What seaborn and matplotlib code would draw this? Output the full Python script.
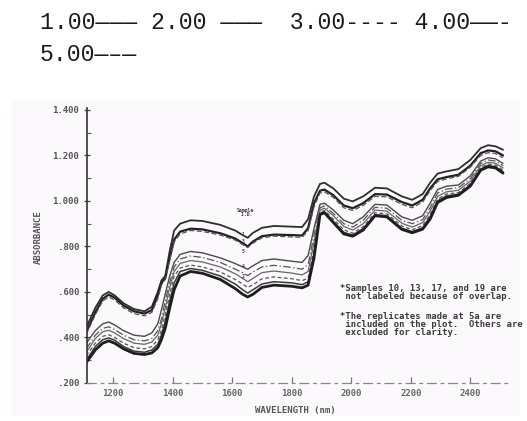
import matplotlib
matplotlib.use("Agg")
import matplotlib.pyplot as plt
import seaborn as sns
import pandas as pd
from matplotlib.patches import Rectangle

sns.set_style("white")
plt.rcParams["font.family"] = ["DejaVu Sans Mono", "DejaVu Sans"]

# wavelength grid (nm)
wavelength = [1110, 1140, 1165, 1185, 1205, 1235, 1270, 1305, 1330, 1350, 1362, 1375,
              1390, 1405, 1425, 1460, 1500, 1560, 1610, 1635, 1652, 1670, 1700, 1740,
              1800, 1835, 1855, 1875, 1895, 1910, 1940, 1975, 2005, 2040, 2080, 2120,
              2170, 2205, 2240, 2265, 2290, 2320, 2360, 2400, 2435, 2460, 2485, 2510]

# upper group of spectra
curve_a = [.445, .53, .585, .60, .585, .55, .525, .515, .535, .60, .65, .67,
           .78, .87, .90, .915, .912, .895, .87, .85, .838, .86, .882, .89,
           .887, .885, .92, 1.02, 1.075, 1.08, 1.055, 1.01, .998, 1.02, 1.058, 1.055,
           1.02, 1.005, 1.03, 1.08, 1.12, 1.13, 1.14, 1.18, 1.232, 1.245, 1.24, 1.225]
curve_b = [.425, .51, .57, .588, .575, .54, .515, .505, .52, .585, .64, .66,
           .75, .83, .865, .878, .875, .858, .835, .815, .80, .822, .845, .852,
           .85, .848, .88, .99, 1.045, 1.05, 1.025, .98, .968, .99, 1.03, 1.028,
           .995, .98, 1.005, 1.055, 1.095, 1.105, 1.115, 1.155, 1.21, 1.222, 1.218, 1.20]
curve_c = [.415, .50, .56, .578, .565, .53, .505, .495, .51, .57, .63, .655,
           .74, .82, .855, .87, .866, .85, .828, .808, .795, .815, .838, .845,
           .842, .84, .87, .975, 1.035, 1.04, 1.015, .97, .958, .98, 1.02, 1.018,
           .985, .97, .995, 1.045, 1.085, 1.097, 1.108, 1.148, 1.20, 1.212, 1.208, 1.19]

# lower group of spectra
curve_d = [.375, .43, .46, .468, .455, .43, .41, .405, .42, .46, .52, .59,
           .67, .73, .765, .778, .772, .75, .725, .71, .70, .715, .738, .745,
           .735, .73, .76, .88, .985, .99, .96, .915, .90, .93, .985, .982,
           .93, .915, .935, .99, 1.05, 1.065, 1.07, 1.11, 1.175, 1.19, 1.185, 1.165]
curve_e = [.35, .41, .44, .447, .435, .41, .39, .385, .395, .43, .48, .56,
           .64, .71, .745, .758, .752, .73, .70, .685, .672, .688, .71, .717,
           .708, .70, .72, .85, .97, .978, .945, .90, .885, .915, .972, .968,
           .915, .90, .918, .97, 1.035, 1.052, 1.058, 1.098, 1.165, 1.18, 1.175, 1.155]
curve_f = [.335, .395, .425, .432, .42, .395, .375, .37, .38, .41, .46, .53,
           .62, .69, .725, .738, .732, .71, .68, .66, .645, .66, .685, .692,
           .683, .675, .69, .82, .96, .968, .935, .888, .872, .90, .96, .955,
           .902, .885, .905, .955, 1.02, 1.04, 1.047, 1.087, 1.155, 1.17, 1.165, 1.145]
curve_g = [.32, .375, .405, .412, .40, .375, .355, .35, .36, .39, .43, .50,
           .59, .67, .705, .718, .71, .688, .655, .635, .62, .632, .658, .666,
           .658, .65, .66, .79, .95, .958, .92, .873, .858, .887, .948, .943,
           .89, .873, .892, .94, 1.008, 1.03, 1.037, 1.077, 1.147, 1.162, 1.157, 1.135]
curve_h = [.30, .36, .39, .398, .388, .36, .34, .335, .345, .37, .41, .47,
           .56, .64, .69, .703, .695, .67, .635, .61, .595, .61, .635, .645,
           .64, .632, .645, .77, .945, .952, .91, .862, .85, .878, .94, .935,
           .88, .865, .882, .93, 1.0, 1.022, 1.03, 1.07, 1.14, 1.156, 1.15, 1.128]
curve_i = [.29, .345, .375, .385, .375, .35, .33, .325, .332, .355, .39, .44,
           .53, .61, .67, .69, .682, .655, .615, .59, .578, .59, .62, .63,
           .625, .618, .63, .75, .94, .948, .905, .855, .845, .872, .935, .93,
           .875, .86, .876, .92, .993, 1.015, 1.025, 1.065, 1.135, 1.15, 1.145, 1.122]

curves = [curve_a, curve_b, curve_c, curve_d, curve_e, curve_f, curve_g, curve_h, curve_i]
line_styles = [("-", 1.3, "#2e2e2e"), ("-", 1.6, "#222222"), ((0, (4, 2)), 0.9, "#555555"),
               ("-", 1.0, "#4a4a4a"), ((0, (6, 2, 1, 2)), 0.9, "#555555"), ("-", 0.9, "#666666"),
               ((0, (3, 2)), 0.9, "#555555"), ("-", 1.1, "#3a3a3a"), ("-", 2.0, "#1e1e1e")]

y_ticks = [0.2, 0.4, 0.6, 0.8, 1.0, 1.2, 1.4]
y_tick_labels = [".200", ".400", ".600", ".800", "1.000", "1.200", "1.400"]
x_ticks = [1200, 1400, 1600, 1800, 2000, 2200, 2400]
x_tick_labels = ["1200", "1400", "1600", "1800", "2000", "2200", "2400"]

header_1 = "1.00\u2014\u2014\u2014 2.00 \u2014\u2014\u2014  3.00---- 4.00\u2014\u2014-"
header_2 = "5.00\u2014\u2013\u2014"

note_1 = "*Samples 10, 13, 17, and 19 are\n not labeled because of overlap."
note_2 = "*The replicates made at 5a are\n included on the plot.  Others are\n excluded for clarity."

fig = plt.figure(figsize=(5.27, 4.21), dpi=100)

# faint scanned page background
fig.patches.append(Rectangle((12 / 527, 1 - 416 / 421), 508 / 527, 316 / 421,
                             transform=fig.transFigure, facecolor="#fbf9fb",
                             edgecolor="none", zorder=-1))

ax = fig.add_axes([0.165, 0.0903, 0.8008, 0.654])
ax.set_facecolor("none")

for vals, (ls, lw, col) in zip(curves, line_styles):
    df = pd.DataFrame({"wavelength": wavelength, "absorbance": vals})
    sns.lineplot(data=df, x="wavelength", y="absorbance", ax=ax, estimator=None,
                 color=col, linewidth=lw, linestyle=ls)

ax.set_xlim(1112, 2530)
ax.set_ylim(0.2, 1.41)

for side in ["top", "right"]:
    ax.spines[side].set_visible(False)
ax.spines["left"].set_color("#333333")
ax.spines["left"].set_linewidth(1.2)
ax.spines["bottom"].set_color("#888888")
ax.spines["bottom"].set_linewidth(0.9)
ax.spines["bottom"].set_linestyle((0, (7, 4, 2, 4)))

ax.set_yticks(y_ticks)
ax.set_yticklabels(y_tick_labels, fontsize=6.5, fontweight="bold", color="#555555")
ax.set_yticks([0.3, 0.5, 0.7, 0.9, 1.1, 1.3], minor=True)
ax.set_xticks(x_ticks)
ax.set_xticklabels(x_tick_labels, fontsize=6.5, fontweight="bold", color="#666666")
ax.tick_params(axis="y", which="major", direction="inout", length=5, width=0.9,
               color="#444444", pad=3, left=True)
ax.tick_params(axis="y", which="minor", direction="in", length=3, width=0.8,
               color="#555555", left=True)
ax.tick_params(axis="x", which="major", direction="in", length=4, width=0.9,
               color="#777777", pad=4, bottom=True)

ax.set_xlabel("WAVELENGTH (nm)", fontsize=6.5, fontweight="bold", color="#555555")
ax.set_ylabel("ABSORBANCE", fontsize=6.5, fontweight="bold", color="#555555")
ax.xaxis.set_label_coords(0.493, -0.085)
ax.yaxis.set_label_coords(-0.105, 0.53)

# small sample id labels beside the dip
ax.text(1645, 0.95, "Sample\n I.D.", fontsize=3.5, fontweight="bold", color="#444444",
        ha="center", va="center", linespacing=0.9)
for lab, yv in zip(["1", "3", "5", "4", "2"], [0.852, 0.82, 0.78, 0.71, 0.67]):
    ax.text(1636, yv, lab, fontsize=3.5, fontweight="bold", color="#444444",
            ha="center", va="center")

fig.text(340 / 527, 1 - 284 / 421, note_1, fontsize=6.4, fontweight="bold",
         color="#3a3a3a", va="top", ha="left", linespacing=0.85)
fig.text(340 / 527, 1 - 312 / 421, note_2, fontsize=6.4, fontweight="bold",
         color="#3a3a3a", va="top", ha="left", linespacing=0.85)

fig.text(40 / 527, 1 - 29.3 / 421, header_1, fontsize=16.7, family="Liberation Mono",
         color="#1a1a1a", va="baseline", ha="left")
fig.text(40 / 527, 1 - 61 / 421, header_2, fontsize=16.7, family="Liberation Mono",
         color="#1a1a1a", va="baseline", ha="left")

fig.savefig("out.png", dpi=100)
